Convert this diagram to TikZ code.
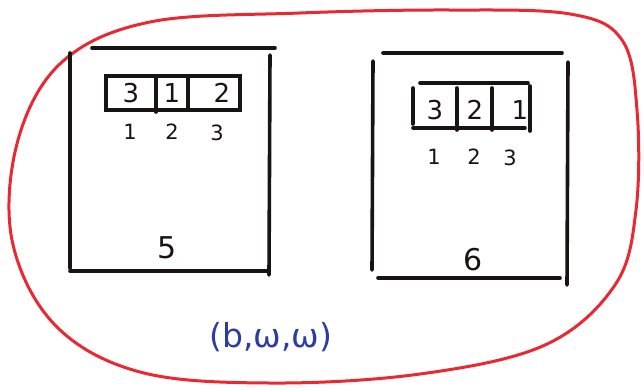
\documentclass[tikz,border=0pt]{standalone}
\usepackage{fontspec}
\setmainfont{DejaVu Sans}
\definecolor{penred}{RGB}{232,40,50}
\definecolor{penblue}{RGB}{45,60,165}
\definecolor{ink}{RGB}{25,20,20}
\tikzset{
  stroke/.style={draw=ink, line width=3.6pt, line cap=round},
  digit/.style={text=ink, font=\fontsize{26}{26}\selectfont, inner sep=0pt},
  idx/.style={text=ink, font=\fontsize{21}{21}\selectfont, inner sep=0pt},
  big/.style={text=ink, font=\fontsize{30}{30}\selectfont, inner sep=0pt},
}
\begin{document}
\begin{tikzpicture}[x=1pt,y=-1pt]
\useasboundingbox (0,0) rectangle (644,389);
% red outline
\draw[penred, line width=3pt] plot[smooth cycle, tension=0.6] coordinates {
 (300,13) (450,10) (570,14) (622,40) (637,110) (636,210) (615,285) (545,345)
 (420,374) (270,383) (140,372) (55,325) (12,240) (18,140) (62,62) (150,22)};
% left frame
\draw[stroke] (92,48) -- (275,48);
\draw[stroke] (70,53) -- (70,268);
\draw[stroke] (270,55) -- (269,275);
\draw[stroke] (70,271) -- (267,271);
% left array
\draw[stroke] (106,76) rectangle (240,110);
\draw[stroke] (156,76) -- (156,112);
\draw[stroke] (188,76) -- (188,110);
\node[digit] (l3) at (131,93) {3};
\node[digit] (l1) at (172,93) {1};
\node[digit] (l2) at (222,93) {2};
\node[idx] (li1) at (130,132) {1};
\node[idx] (li2) at (172,132) {2};
\node[idx] (li3) at (217,133) {3};
\node[big] (five) at (167,248) {5};
% right frame
\draw[stroke] (383,53) -- (562,53);
\draw[stroke] (373,61) -- (372,270);
\draw[stroke] (568,62) -- (567,285);
\draw[stroke] (378,278) -- (560,278);
% right array
\draw[stroke] (420,83) -- (528,83);
\draw[stroke] (413,128) -- (525,128);
\draw[stroke] (413,88) -- (413,124);
\draw[stroke] (457,88) -- (457,130);
\draw[stroke] (492,88) -- (492,130);
\draw[stroke] (530,86) -- (530,131);
\node[digit] (r3) at (435,110) {3};
\node[digit] (r2) at (475,110) {2};
\node[digit] (r1) at (520,110) {1};
\node[idx] (ri1) at (434,157) {1};
\node[idx] (ri2) at (474,157) {2};
\node[idx] (ri3) at (510,158) {3};
\node[big] (six) at (473,260) {6};
% label
\node[text=penblue, font=\fontsize{33}{33}\selectfont, inner sep=0pt] (lab) at (271,337) {(b,ω,ω)};
\end{tikzpicture}
\end{document}
